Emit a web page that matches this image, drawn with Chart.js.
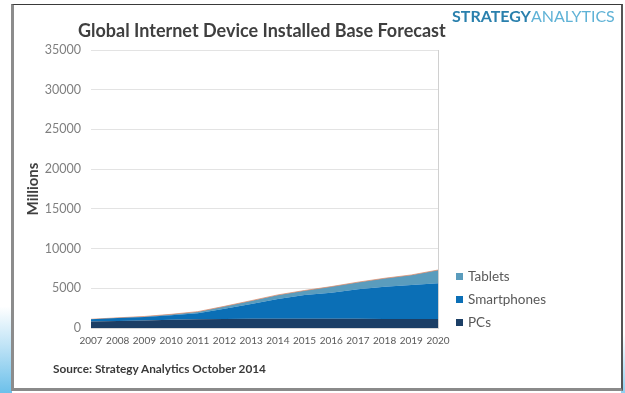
<!DOCTYPE html>
<html>
<head>
<meta charset="utf-8">
<script src="https://cdn.jsdelivr.net/npm/chart.js@4.4.0/dist/chart.umd.min.js"></script>
<style>
  html, body { margin:0; padding:0; width:625px; height:393px; overflow:hidden; background:#fff; font-family: Lato, "Open Sans", sans-serif; }
  #leftbg { position:absolute; left:0; top:0; width:12px; height:393px; background:linear-gradient(to bottom, #ffffff 0%, #ffffff 78%, #bfe3f6 88%, #6cc0ea 100%); }
  #rightbg { position:absolute; left:621px; top:0; width:4px; height:393px; background:linear-gradient(to bottom, #ffffff 0%, #ffffff 85%, #8fd0f0 100%); }
  #frame { position:absolute; left:11px; top:4px; width:607px; height:383px; background:#fff; border-left:3px solid #8c8c8c; border-top:1px solid #3a3a3a; border-right:2px solid #555; border-bottom:3px solid #8a8a8a; }
  #title { position:absolute; left:78px; top:19px; font-weight:bold; font-size:18px; color:#3f3f3f; white-space:nowrap; letter-spacing:0px; }
  #brand { position:absolute; left:452px; top:6px; font-size:16px; white-space:nowrap; letter-spacing:0px; }
  #brand .a { color:#2a80ad; font-weight:bold; }
  #brand .b { color:#5fb2d6; font-weight:normal; }
  #source { position:absolute; left:53px; top:361px; font-size:11.8px; font-weight:bold; color:#3a3a3a; white-space:nowrap; }
  .lg { position:absolute; left:456px; font-size:13.5px; color:#595959; white-space:nowrap; }
  .lg span { display:inline-block; width:7px; height:7px; margin-right:5px; vertical-align:middle; position:relative; top:-1px; }
  canvas { position:absolute; left:0; top:0; }
</style>
</head>
<body>
<div id="leftbg"></div>
<div id="rightbg"></div>
<div id="frame"></div>
<canvas id="c" width="625" height="393"></canvas>
<div id="title">Global Internet Device Installed Base Forecast</div>
<div id="brand"><span class="a">STRATEGY</span><span class="b">ANALYTICS</span></div>
<div class="lg" id="lg0" style="top:268px"><span style="background:#5a9cbd"></span>Tablets</div>
<div class="lg" id="lg1" style="top:291px"><span style="background:#0b6fb6"></span>Smartphones</div>
<div class="lg" id="lg2" style="top:314px"><span style="background:#1c3f66"></span>PCs</div>
<div id="source">Source: Strategy Analytics October 2014</div>
<script>
const years = ["2007","2008","2009","2010","2011","2012","2013","2014","2015","2016","2017","2018","2019","2020"];
const pcs = [820, 880, 950, 1040, 1100, 1130, 1150, 1160, 1160, 1160, 1150, 1140, 1130, 1120];
const smartphones = [280, 380, 440, 560, 750, 1300, 1870, 2490, 3000, 3290, 3720, 4060, 4290, 4510];
const tablets = [0, 20, 60, 120, 210, 300, 420, 520, 560, 760, 900, 1060, 1260, 1670];
const yTicks = [0, 5000, 10000, 15000, 20000, 25000, 30000, 35000];

new Chart(document.getElementById('c'), {
  type: 'line',
  data: {
    labels: years,
    datasets: [
      { label: 'PCs', data: pcs, backgroundColor: '#1c3f66', borderWidth: 0, borderColor: '#1c3f66', fill: 'origin', pointRadius: 0, tension: 0 },
      { label: 'Smartphones', data: smartphones, backgroundColor: '#0b6fb6', borderWidth: 0, borderColor: '#0b6fb6', fill: '-1', pointRadius: 0, tension: 0 },
      { label: 'Tablets', data: tablets, backgroundColor: '#5a9cbd', borderWidth: 1, borderColor: 'rgba(225,140,105,0.75)', fill: '-1', pointRadius: 0, tension: 0 }
    ]
  },
  options: {
    responsive: false,
    animation: false,
    layout: { padding: { left: 20, top: 50, right: 187, bottom: 43 } },
    plugins: { legend: { display: false }, tooltip: { enabled: false } },
    scales: {
      x: {
        stacked: true,
        offset: false,
        grid: { display: false, drawTicks: false },
        border: { display: true, color: '#d9d9d9' },
        ticks: { autoSkip: false, maxRotation: 0, padding: 7, color: '#595959', font: { family: 'Lato', size: 10 } },
        afterFit: s => { s.height = 22; }
      },
      y: {
        stacked: true,
        min: 0, max: 35000,
        afterBuildTicks: s => { s.ticks = yTicks.map(v => ({ value: v })); },
        grid: { color: '#e3e3e3', drawTicks: false },
        border: { display: false },
        ticks: { padding: 10, color: '#7f7f7f', font: { family: 'Lato', size: 12.5 }, callback: v => String(v) },
        title: { display: true, text: 'Millions', color: '#404040', font: { family: 'Lato', size: 15, weight: 'bold' }, padding: { top: 4, bottom: 0 } },
        afterFit: s => { s.width = 71; }
      }
    }
  },
  plugins: [{
    id: 'rightBorder',
    afterDatasetsDraw(chart) {
      const { ctx, chartArea: a } = chart;
      ctx.save();
      ctx.strokeStyle = '#d0d0d0';
      ctx.lineWidth = 1;
      ctx.beginPath();
      ctx.moveTo(a.right + 0.5, a.top);
      ctx.lineTo(a.right + 0.5, a.bottom);
      ctx.stroke();
      ctx.restore();
    }
  }]
});
</script>
</body>
</html>
